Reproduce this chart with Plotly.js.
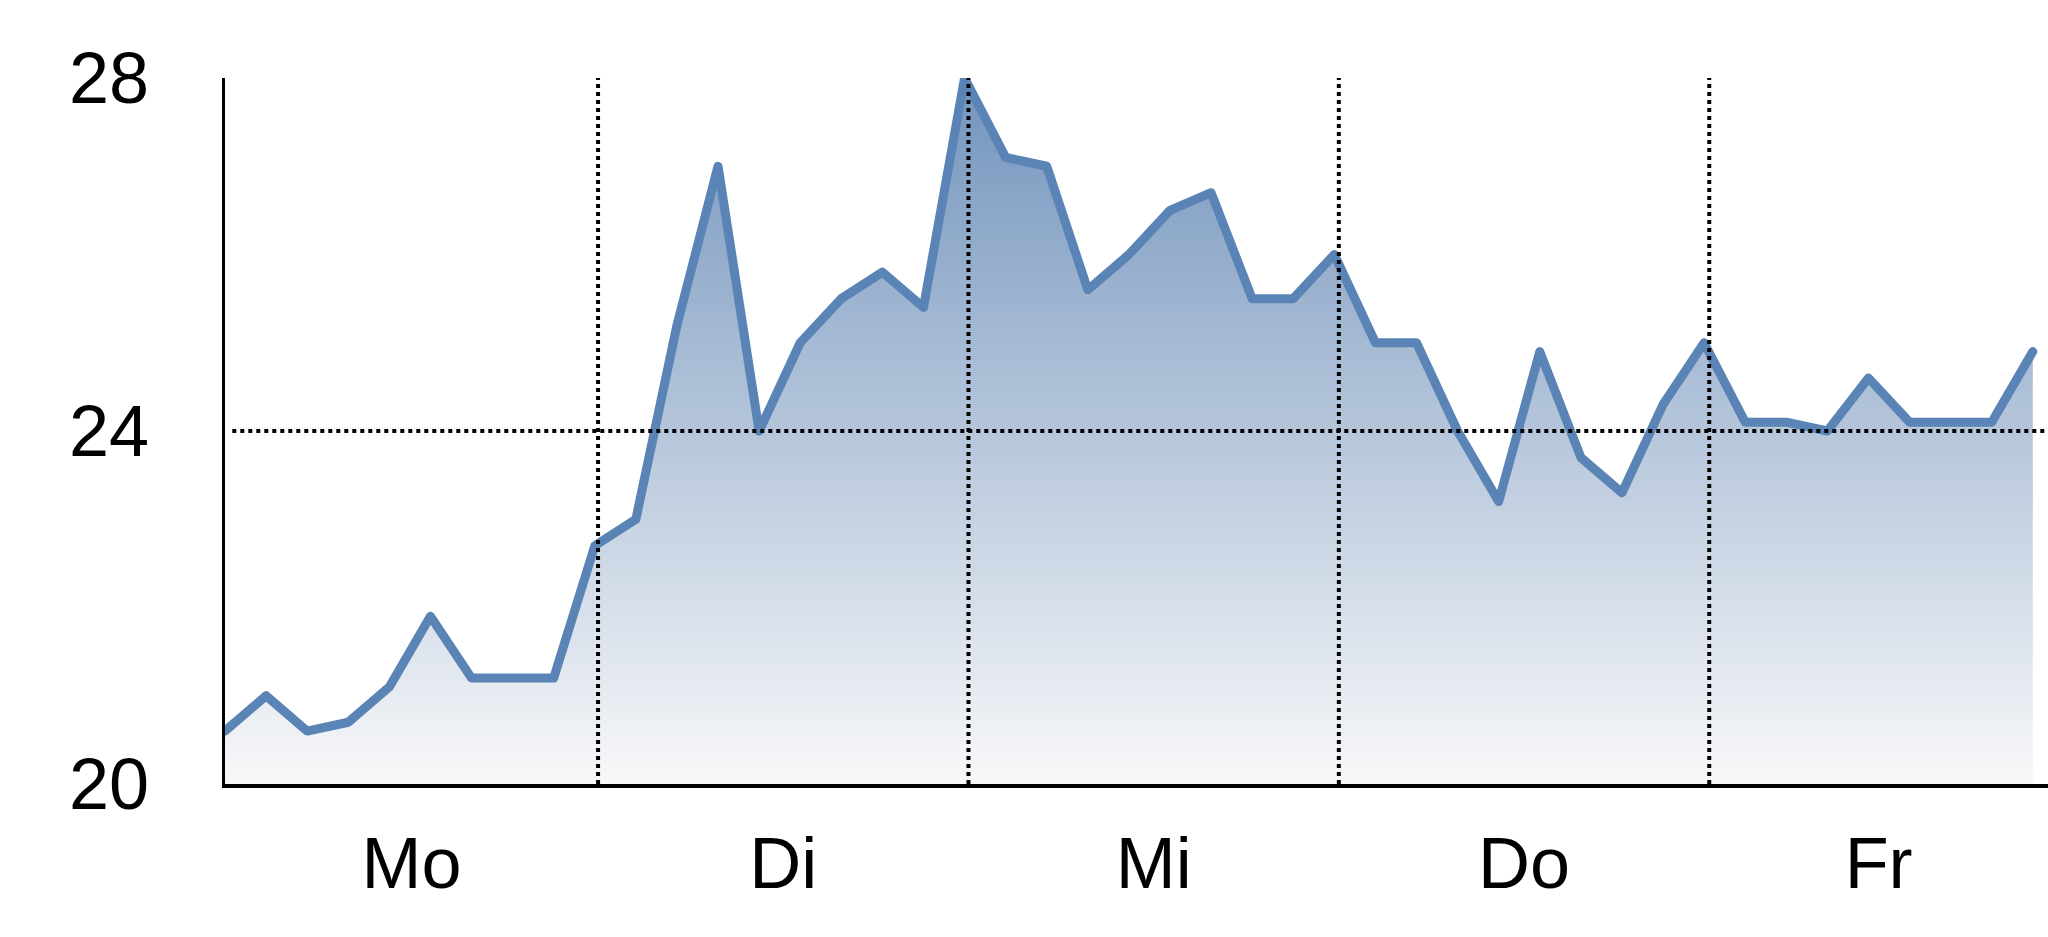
<!DOCTYPE html>
<html>
<head>
<meta charset="utf-8">
<script src="https://cdn.plot.ly/plotly-3.0.1.min.js"></script>
<style>
  html, body { margin: 0; padding: 0; background: #ffffff; }
  #chart { width: 2048px; height: 937px; }
  #chart .js-line { stroke-linejoin: round !important; stroke-linecap: round !important; }
</style>
</head>
<body>
<div id="chart"></div>
<script>
// temperature readings, 9 samples per day
var temps = [
    20.6, 21.0, 20.6, 20.7, 21.1, 21.9, 21.2, 21.2, 21.2, 22.7,
    23.0, 25.2, 27.0, 24.0, 25.0, 25.5, 25.8, 25.4, 28.0, 27.1,
    27.0, 25.6, 26.0, 26.5, 26.7, 25.5, 25.5, 26.0, 25.0, 25.0,
    24.0, 23.2, 24.9, 23.7, 23.3, 24.3, 25.0, 24.1, 24.1, 24.0,
    24.6, 24.1, 24.1, 24.1, 24.9
];
var days = ["Mo", "Di", "Mi", "Do", "Fr"];
var yTicks = [20, 24, 28];
var yGrid = [24];

function debug(obj) {
    console.log(JSON.stringify(obj));
}

function showChart() {
    try {
        var x = [];
        for (var i = 0; i < temps.length; i++) {
            x.push(i);
        }
        // day boundaries on the sample axis
        var xEnd = 44.37;
        var firstBreak = 9.08, dayLen = 9.015;
        var breaks = [];
        for (var d = 1; d < days.length; d++) {
            breaks.push(firstBreak + (d - 1) * dayLen);
        }
        var edges = [0].concat(breaks).concat([xEnd]);
        var centers = [];
        for (var k = 0; k < days.length; k++) {
            centers.push((edges[k] + edges[k + 1]) / 2);
        }

        var dotted = {color: '#000000', width: 4, dash: 'dot'};
        var shapes = [];
        breaks.forEach(function (b) {
            shapes.push({type: 'line', xref: 'x', yref: 'paper', x0: b, x1: b, y0: 0, y1: 1, line: dotted});
        });
        yGrid.forEach(function (g) {
            shapes.push({type: 'line', xref: 'paper', yref: 'y', x0: 0.004, x1: 1, y0: g, y1: g, line: dotted});
        });

        var trace = {
            x: x,
            y: temps,
            type: 'scatter',
            mode: 'lines',
            line: {color: '#5a84b5', width: 9},
            fill: 'tozeroy',
            fillgradient: {
                type: 'vertical',
                start: 20,
                stop: 28,
                colorscale: [[0, '#f8f8f9'], [1, '#7394bd']]
            },
            hoverinfo: 'skip'
        };

        var tickFont = {
            family: '"Liberation Sans", Arial, sans-serif',
            size: 72,
            color: '#000000'
        };

        var layout = {
            width: 2048,
            height: 937,
            margin: {l: 225, r: 0, t: 78, b: 153},
            paper_bgcolor: '#ffffff',
            plot_bgcolor: '#ffffff',
            showlegend: false,
            xaxis: {
                range: [0, xEnd],
                tickmode: 'array',
                tickvals: centers,
                ticktext: days,
                ticks: '',
                showgrid: false,
                zeroline: false,
                showline: true,
                linecolor: '#000000',
                linewidth: 3.5,
                tickfont: tickFont,
                ticklabelstandoff: 14,
                fixedrange: true
            },
            yaxis: {
                range: [20, 28],
                tickmode: 'array',
                tickvals: yTicks,
                ticks: '',
                showgrid: false,
                zeroline: false,
                showline: true,
                linecolor: '#000000',
                linewidth: 3.5,
                tickfont: tickFont,
                ticklabelstandoff: 58,
                fixedrange: true
            },
            shapes: shapes
        };

        Plotly.newPlot('chart', [trace], layout, {displayModeBar: false, staticPlot: true});
    } catch (error) {
        debug(error.message);
    }
}

showChart();
</script>
</body>
</html>
